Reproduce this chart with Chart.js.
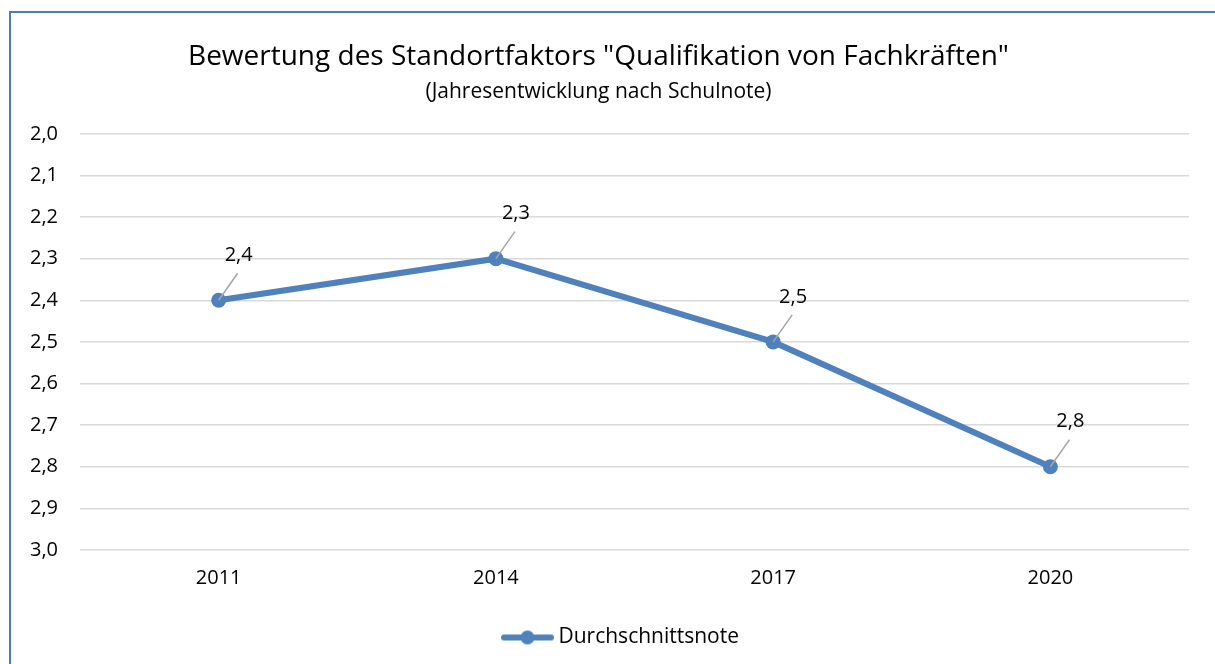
<!DOCTYPE html>
<html>
<head>
<meta charset="utf-8">
<script src="https://cdn.jsdelivr.net/npm/chart.js@4/dist/chart.umd.min.js"></script>
<style>
  html, body { margin: 0; padding: 0; background: #fff; overflow: hidden; }
  #frame {
    position: absolute; left: 9px; top: 11px; width: 1300px; height: 800px;
    border-left: 2px solid #4a7ebb; border-top: 2px solid #4a7ebb;
  }
  #wrap { position: absolute; left: 0; top: 0; width: 1215px; height: 664px; }
</style>
</head>
<body>
<div id="frame"></div>
<div id="wrap"><canvas id="chart"></canvas></div>
<script>
const years = ['2011', '2014', '2017', '2020'];
const grades = [2.4, 2.3, 2.5, 2.8];
const seriesName = 'Durchschnittsnote';
const titleText = 'Bewertung des Standortfaktors "Qualifikation von Fachkräften"';
const subtitleText = '(Jahresentwicklung nach Schulnote)';

const blue = '#4f81bd';
const fontFamily = '"Open Sans", "Noto Sans", sans-serif';
const fmt = v => v.toFixed(1).replace('.', ',');

// legend marker: short line with a dot, drawn in the right part so it sits next to the text
const marker = document.createElement('canvas');
marker.width = 110;
marker.height = 16;
const mctx = marker.getContext('2d');
mctx.strokeStyle = blue;
mctx.lineWidth = 6;
mctx.lineCap = 'round';
mctx.beginPath();
mctx.moveTo(56, 8);
mctx.lineTo(103, 8);
mctx.stroke();
mctx.fillStyle = blue;
mctx.beginPath();
mctx.arc(79.5, 8, 7, 0, Math.PI * 2);
mctx.fill();

// data labels with a short grey leader line
const leaderLabels = {
  id: 'leaderLabels',
  afterDatasetsDraw(chart) {
    const ctx = chart.ctx;
    const meta = chart.getDatasetMeta(0);
    ctx.save();
    meta.data.forEach((pt, i) => {
      ctx.strokeStyle = '#a6a6a6';
      ctx.lineWidth = 1.5;
      ctx.beginPath();
      ctx.moveTo(pt.x, pt.y);
      ctx.lineTo(pt.x + 19, pt.y - 27);
      ctx.stroke();
      ctx.fillStyle = '#000';
      ctx.font = '20px ' + fontFamily;
      ctx.textAlign = 'center';
      ctx.textBaseline = 'middle';
      ctx.fillText(fmt(grades[i]), pt.x + 20, pt.y - 45);
    });
    ctx.restore();
  }
};

new Chart(document.getElementById('chart'), {
  type: 'line',
  data: {
    labels: years,
    datasets: [{
      label: seriesName,
      data: grades,
      borderColor: blue,
      backgroundColor: blue,
      borderWidth: 6,
      pointRadius: 7.5,
      pointBackgroundColor: blue,
      pointBorderWidth: 0,
      tension: 0
    }]
  },
  options: {
    responsive: true,
    maintainAspectRatio: false,
    animation: false,
    layout: { padding: { left: 8, right: 26, top: 0, bottom: 6 } },
    plugins: {
      title: {
        display: true,
        text: titleText,
        color: '#000',
        font: { family: fontFamily, size: 28, weight: 'normal' },
        padding: { top: 40, bottom: 6 }
      },
      subtitle: {
        display: true,
        text: subtitleText,
        color: '#000',
        font: { family: fontFamily, size: 21, weight: 'normal' },
        padding: { top: 0, bottom: 29 }
      },
      legend: {
        position: 'bottom',
        labels: {
          usePointStyle: true,
          pointStyle: marker,
          pointStyleWidth: 90,
          boxHeight: 14,
          color: '#000',
          font: { family: fontFamily, size: 21 },
          padding: 21
        }
      },
      tooltip: { enabled: false }
    },
    scales: {
      y: {
        reverse: true,
        min: 2,
        max: 3,
        ticks: {
          stepSize: 0.1,
          color: '#000',
          font: { family: fontFamily, size: 20 },
          padding: 22,
          callback: v => fmt(v)
        },
        grid: { color: '#d9d9d9', lineWidth: 1.5, drawTicks: false },
        border: { display: false }
      },
      x: {
        offset: true,
        ticks: {
          color: '#000',
          font: { family: fontFamily, size: 20 },
          padding: 16
        },
        grid: { display: false, drawTicks: false },
        border: { display: false }
      }
    }
  },
  plugins: [leaderLabels]
});
</script>
</body>
</html>
